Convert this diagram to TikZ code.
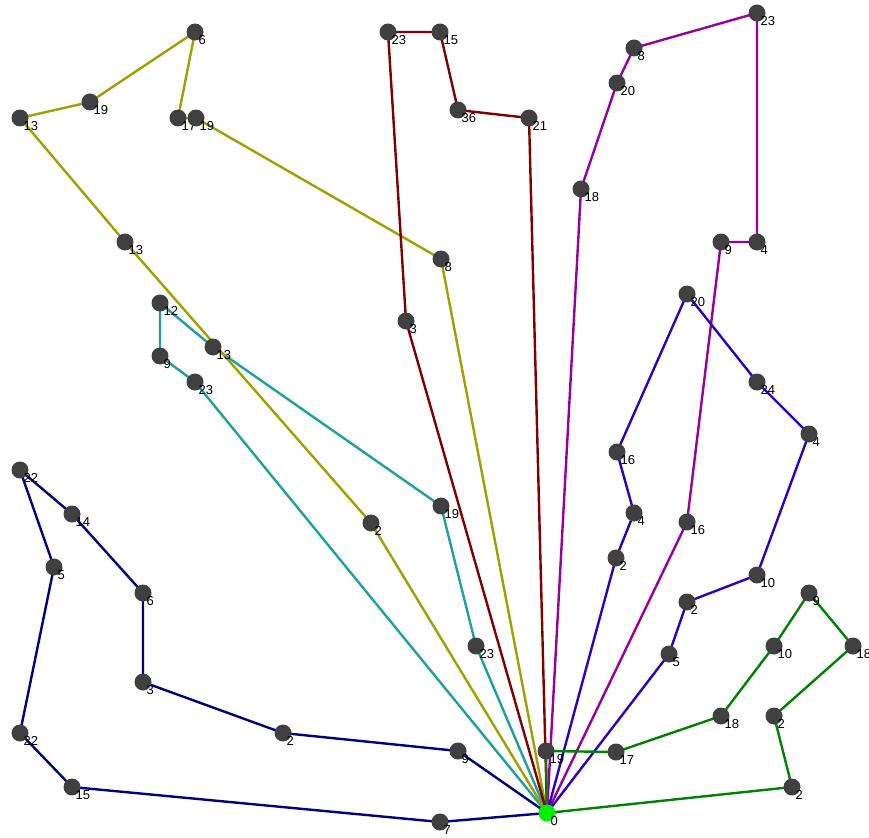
\documentclass[tikz,border=0pt]{standalone}
\usepackage{fontspec}
\setmainfont{Liberation Sans}
\usetikzlibrary{backgrounds}
\definecolor{stopgray}{RGB}{64,64,64}
\definecolor{depotgreen}{RGB}{0,240,0}
\definecolor{routenavy}{RGB}{0,0,128}
\definecolor{routeteal}{RGB}{30,160,160}
\definecolor{routeolive}{RGB}{160,160,0}
\definecolor{routered}{RGB}{128,0,0}
\definecolor{routepurple}{RGB}{150,0,160}
\definecolor{routeblue}{RGB}{45,0,190}
\definecolor{routegreen}{RGB}{0,130,0}
\tikzset{
	stop/.style={circle, fill=stopgray, minimum size=17pt, inner sep=0pt},
	depot/.style={circle, fill=depotgreen, minimum size=17pt, inner sep=0pt},
	lbl/.style={font=\fontsize{13}{13}\selectfont, inner sep=0pt, label distance=-4pt},
	route/.style={line width=2.4pt}
}
\begin{document}
\begin{tikzpicture}[x=1pt,y=-1pt,every label/.style={lbl}]
	\useasboundingbox (0,0) rectangle (869,837);
	% depot
	\node (D)   at (547,813)	[depot, label={[lbl]below right:0}]	{};
	% route 1 (navy)
	\node (nv1) at (458,751)	[stop, label={[lbl]below right:9}]	{};
	\node (nv2) at (283,733)	[stop, label={[lbl]below right:2}]	{};
	\node (nv3) at (143,682)	[stop, label={[lbl]below right:3}]	{};
	\node (nv4) at (143,593)	[stop, label={[lbl]below right:6}]	{};
	\node (nv5) at ( 72,514)	[stop, label={[lbl]below right:14}]	{};
	\node (nv6) at ( 20,470)	[stop, label={[lbl]below right:22}]	{};
	\node (nv7) at ( 54,567)	[stop, label={[lbl]below right:5}]	{};
	\node (nv8) at ( 20,733)	[stop, label={[lbl]below right:22}]	{};
	\node (nv9) at ( 72,787)	[stop, label={[lbl]below right:15}]	{};
	\node (nv10) at (440,822)	[stop, label={[lbl]below right:7}]	{};
	% route 2 (teal)
	\node (tl1) at (476,646)	[stop, label={[lbl]below right:23}]	{};
	\node (tl2) at (441,506)	[stop, label={[lbl]below right:19}]	{};
	\node (tl3) at (213,347)	[stop, label={[lbl]below right:13}]	{};
	\node (tl4) at (160,303)	[stop, label={[lbl]below right:12}]	{};
	\node (tl5) at (160,356)	[stop, label={[lbl]below right:9}]	{};
	\node (tl6) at (195,382)	[stop, label={[lbl]below right:23}]	{};
	% route 3 (olive)
	\node (ol1) at (371,523)	[stop, label={[lbl]below right:2}]	{};
	\node (ol2) at (125,242)	[stop, label={[lbl]below right:13}]	{};
	\node (ol3) at ( 20,118)	[stop, label={[lbl]below right:13}]	{};
	\node (ol4) at ( 90,102)	[stop, label={[lbl]below right:19}]	{};
	\node (ol5) at (195, 32)	[stop, label={[lbl]below right:6}]	{};
	\node (ol6) at (178,118)	[stop, label={[lbl]below right:17}]	{};
	\node (ol7) at (196,118)	[stop, label={[lbl]below right:19}]	{};
	\node (ol8) at (441,259)	[stop, label={[lbl]below right:8}]	{};
	% route 4 (dark red)
	\node (rd1) at (406,321)	[stop, label={[lbl]below right:3}]	{};
	\node (rd2) at (388, 32)	[stop, label={[lbl]below right:23}]	{};
	\node (rd3) at (440, 32)	[stop, label={[lbl]below right:15}]	{};
	\node (rd4) at (458,110)	[stop, label={[lbl]below right:36}]	{};
	\node (rd5) at (529,118)	[stop, label={[lbl]below right:21}]	{};
	% route 5 (purple)
	\node (pp1) at (581,189)	[stop, label={[lbl]below right:18}]	{};
	\node (pp2) at (617, 83)	[stop, label={[lbl]below right:20}]	{};
	\node (pp3) at (634, 48)	[stop, label={[lbl]below right:8}]	{};
	\node (pp4) at (757, 13)	[stop, label={[lbl]below right:23}]	{};
	\node (pp5) at (757,242)	[stop, label={[lbl]below right:4}]	{};
	\node (pp6) at (721,242)	[stop, label={[lbl]below right:9}]	{};
	\node (pp7) at (687,522)	[stop, label={[lbl]below right:16}]	{};
	% route 6 (blue)
	\node (bl1) at (616,558)	[stop, label={[lbl]below right:2}]	{};
	\node (bl2) at (634,513)	[stop, label={[lbl]below right:4}]	{};
	\node (bl3) at (617,452)	[stop, label={[lbl]below right:16}]	{};
	\node (bl4) at (687,294)	[stop, label={[lbl]below right:20}]	{};
	\node (bl5) at (757,382)	[stop, label={[lbl]below right:24}]	{};
	\node (bl6) at (809,434)	[stop, label={[lbl]below right:4}]	{};
	\node (bl7) at (757,575)	[stop, label={[lbl]below right:10}]	{};
	\node (bl8) at (687,602)	[stop, label={[lbl]below right:2}]	{};
	\node (bl9) at (669,654)	[stop, label={[lbl]below right:5}]	{};
	% route 7 (green)
	\node (gr1) at (546,751)	[stop, label={[lbl]below right:19}]	{};
	\node (gr2) at (616,752)	[stop, label={[lbl]below right:17}]	{};
	\node (gr3) at (721,716)	[stop, label={[lbl]below right:18}]	{};
	\node (gr4) at (774,646)	[stop, label={[lbl]below right:10}]	{};
	\node (gr5) at (809,593)	[stop, label={[lbl]below right:9}]	{};
	\node (gr6) at (853,646)	[stop, label={[lbl]below right:18}]	{};
	\node (gr7) at (774,716)	[stop, label={[lbl]below right:2}]	{};
	\node (gr8) at (792,787)	[stop, label={[lbl]below right:2}]	{};
	\begin{pgfonlayer}{background}
	\draw[route, routenavy] (D.center) -- (nv1.center) -- (nv2.center) -- (nv3.center) -- (nv4.center) -- (nv5.center) -- (nv6.center) -- (nv7.center) -- (nv8.center) -- (nv9.center) -- (nv10.center) -- (D.center);
	\draw[route, routeteal] (D.center) -- (tl1.center) -- (tl2.center) -- (tl3.center) -- (tl4.center) -- (tl5.center) -- (tl6.center) -- (D.center);
	\draw[route, routeolive] (D.center) -- (ol1.center) -- (ol2.center) -- (ol3.center) -- (ol4.center) -- (ol5.center) -- (ol6.center) -- (ol7.center) -- (ol8.center) -- (D.center);
	\draw[route, routered] (D.center) -- (rd1.center) -- (rd2.center) -- (rd3.center) -- (rd4.center) -- (rd5.center) -- (D.center);
	\draw[route, routepurple] (D.center) -- (pp1.center) -- (pp2.center) -- (pp3.center) -- (pp4.center) -- (pp5.center) -- (pp6.center) -- (pp7.center) -- (D.center);
	\draw[route, routeblue] (D.center) -- (bl1.center) -- (bl2.center) -- (bl3.center) -- (bl4.center) -- (bl5.center) -- (bl6.center) -- (bl7.center) -- (bl8.center) -- (bl9.center) -- (D.center);
	\draw[route, routegreen] (D.center) -- (gr1.center) -- (gr2.center) -- (gr3.center) -- (gr4.center) -- (gr5.center) -- (gr6.center) -- (gr7.center) -- (gr8.center) -- (D.center);
	\end{pgfonlayer}
\end{tikzpicture}
\end{document}
